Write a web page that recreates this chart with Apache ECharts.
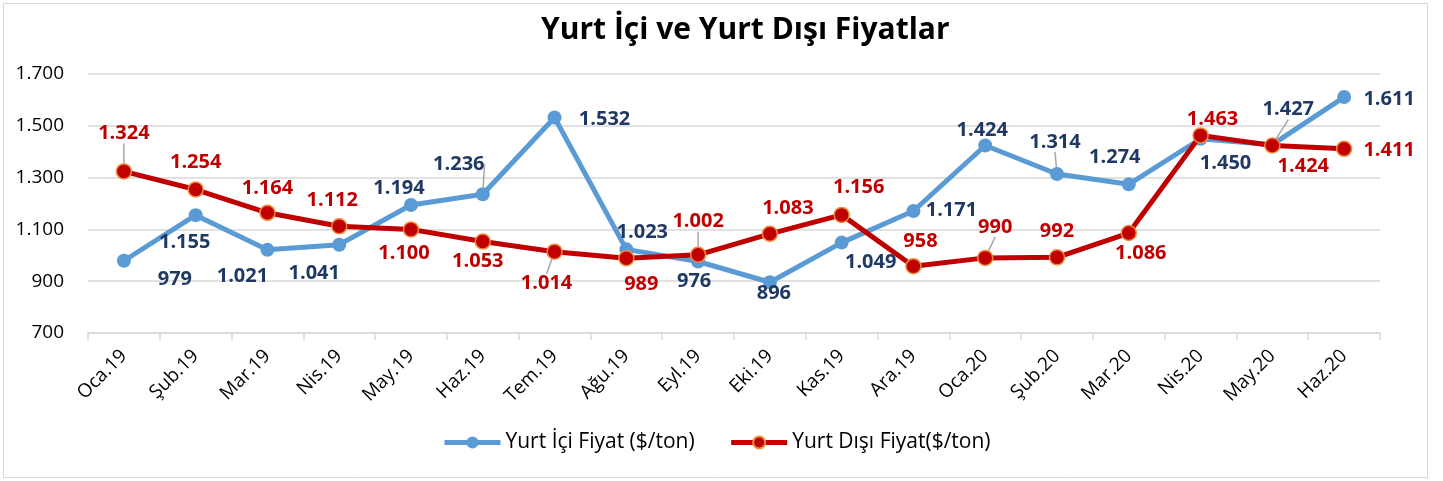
<!DOCTYPE html>
<html>
<head>
<meta charset="utf-8">
<script src="https://cdn.jsdelivr.net/npm/echarts@6/dist/echarts.min.js"></script>
<style>
    html, body {margin: 0; padding: 0; background: #fff;}
    #chart {width: 1443px; height: 481px;}
</style>
</head>
<body>
<div id="chart"></div>
<script>
    // veriler
    var months = ['Oca.19', 'Şub.19', 'Mar.19', 'Nis.19', 'May.19', 'Haz.19', 'Tem.19', 'Ağu.19', 'Eyl.19',
        'Eki.19', 'Kas.19', 'Ara.19', 'Oca.20', 'Şub.20', 'Mar.20', 'Nis.20', 'May.20', 'Haz.20'];
    var yurtIci = [979, 1155, 1021, 1041, 1194, 1236, 1532, 1023, 976, 896, 1049, 1171, 1424, 1314, 1274, 1450, 1427, 1611];
    var yurtDisi = [1324, 1254, 1164, 1112, 1100, 1053, 1014, 989, 1002, 1083, 1156, 958, 990, 992, 1086, 1463, 1424, 1411];
    var yTicks = [700, 900, 1100, 1300, 1500, 1700];

    // etiket kaydırmaları (piksel)
    var iciOffset = [[51, 19], [-11, 27], [-25, 26], [-25, 29], [-12, -17], [-24, -30], [50, 2], [16, -17], [-4, 20],
        [4, 11], [29, 20], [38, -1], [-3, -15], [-2, -32], [-14, -27], [25, 25], [16, -35], [45, 2]];
    var disiOffset = [[0, -38], [0, -27], [0, -25], [-7, -26], [-7, 24], [-5, 20], [-8, 32], [15, 26], [0, -33],
        [18, -26], [17, -28], [7, -25], [10, -31], [0, -26], [12, 20], [12, -16], [31, 21], [45, 1]];
    var iciLeader = [5, 13, 16];
    var disiLeader = [0, 6, 8, 12];

    function fmt(v) {
        v = Math.round(v);
        if (v >= 1000) {
            return Math.floor(v / 1000) + '.' + String(v % 1000).padStart(3, '0');
        }
        return String(v);
    }

    function buildData(values, leaders) {
        return values.map(function (v, i) {
            return {
                value: v,
                labelLine: {show: leaders.indexOf(i) > -1}
            };
        });
    }

    var font = '"Open Sans", sans-serif';
    var chart = echarts.init(document.getElementById('chart'));

    var option = {
        backgroundColor: '#fff',
        animation: false,
        title: {
            text: 'Yurt İçi ve Yurt Dışı Fiyatlar',
            left: 536,
            top: 10,
            textStyle: {fontFamily: font, fontSize: 30, fontWeight: 'bold', color: '#000'}
        },
        graphic: [{
            type: 'rect',
            shape: {x: 3.5, y: 3.5, width: 1424, height: 474},
            style: {fill: 'none', stroke: '#d9d9d9', lineWidth: 1}
        }],
        legend: {
            top: 427,
            left: 437,
            itemWidth: 56,
            itemHeight: 15,
            itemGap: 34,
            lineStyle: {width: 5},
            textStyle: {fontFamily: font, fontSize: 21, color: '#000'},
            data: ['Yurt İçi Fiyat ($/ton)', 'Yurt Dışı Fiyat($/ton)']
        },
        grid: {left: 88, right: 63, top: 74, bottom: 148},
        xAxis: {
            type: 'category',
            data: months,
            boundaryGap: true,
            axisLine: {lineStyle: {color: '#d9d9d9', width: 1.5}},
            axisTick: {show: true, length: 7, lineStyle: {color: '#d9d9d9', width: 1.5}},
            axisLabel: {
                rotate: 45,
                interval: 0,
                margin: 20,
                fontFamily: font,
                fontSize: 19,
                color: '#000'
            }
        },
        yAxis: {
            type: 'value',
            min: yTicks[0],
            max: yTicks[yTicks.length - 1],
            interval: 200,
            axisLine: {show: false},
            axisTick: {show: false},
            splitLine: {lineStyle: {color: '#d9d9d9', width: 1.5}},
            axisLabel: {
                margin: 24,
                fontFamily: font,
                fontSize: 19,
                color: '#000',
                formatter: function (v) { return fmt(v); }
            }
        },
        series: [
            {
                name: 'Yurt İçi Fiyat ($/ton)',
                type: 'line',
                data: buildData(yurtIci, iciLeader),
                symbol: 'circle',
                symbolSize: 14,
                lineStyle: {color: '#5b9bd5', width: 5},
                itemStyle: {color: '#5b9bd5'},
                z: 3,
                label: {
                    show: true,
                    position: 'inside',
                    fontFamily: font,
                    fontSize: 20,
                    fontWeight: 'bold',
                    color: '#1f3864',
                    formatter: function (p) { return fmt(p.value); }
                },
                labelLine: {show: false, lineStyle: {color: '#a6a6a6', width: 1.5}},
                labelLayout: function (p) {
                    return {dx: iciOffset[p.dataIndex][0], dy: iciOffset[p.dataIndex][1]};
                }
            },
            {
                name: 'Yurt Dışı Fiyat($/ton)',
                type: 'line',
                data: buildData(yurtDisi, disiLeader),
                symbol: 'circle',
                symbolSize: 15,
                lineStyle: {color: '#c00000', width: 5},
                itemStyle: {color: '#c00000', borderColor: '#f08c3c', borderWidth: 1.5},
                z: 4,
                label: {
                    show: true,
                    position: 'inside',
                    fontFamily: font,
                    fontSize: 20,
                    fontWeight: 'bold',
                    color: '#c00000',
                    formatter: function (p) { return fmt(p.value); }
                },
                labelLine: {show: false, lineStyle: {color: '#a6a6a6', width: 1.5}},
                labelLayout: function (p) {
                    return {dx: disiOffset[p.dataIndex][0], dy: disiOffset[p.dataIndex][1]};
                }
            }
        ]
    };

    chart.setOption(option);
</script>
</body>
</html>
